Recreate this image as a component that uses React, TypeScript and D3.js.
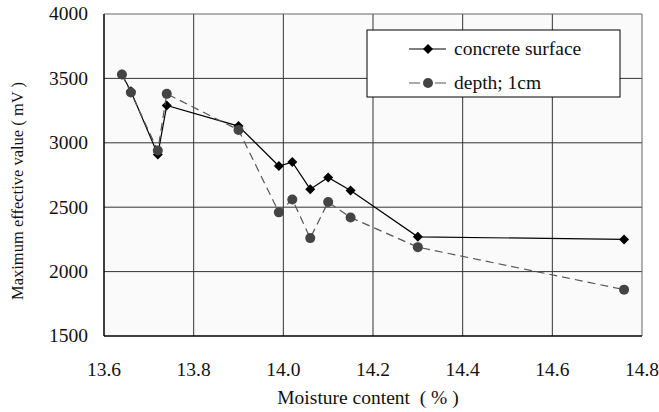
import React from "react";
import * as d3 from "d3";

const moisture = [13.64, 13.66, 13.72, 13.74, 13.9, 13.99, 14.02, 14.06, 14.1, 14.15, 14.3, 14.76];
const surfaceValues = [3530, 3400, 2910, 3290, 3130, 2820, 2850, 2640, 2730, 2630, 2270, 2250];
const depthValues = [3530, 3390, 2940, 3380, 3100, 2460, 2560, 2260, 2540, 2420, 2190, 1860];
const xTicks = [13.6, 13.8, 14.0, 14.2, 14.4, 14.6, 14.8];
const yTicks = [1500, 2000, 2500, 3000, 3500, 4000];
const seriesNames = ["concrete surface", "depth; 1cm"];

const W = 659;
const H = 412;
const M = { left: 104, top: 14, right: 642, bottom: 336 };
const FONT = "Liberation Serif";

export default function App() {
  const x = d3.scaleLinear().domain([13.6, 14.8]).range([M.left, M.right]);
  const y = d3.scaleLinear().domain([1500, 4000]).range([M.bottom, M.top]);
  const line = d3
    .line<number>()
    .x((_, i) => x(moisture[i]))
    .y((d) => y(d));

  const diamond = (cx: number, cy: number, r = 5) =>
    `M${cx},${cy - r}L${cx + r},${cy}L${cx},${cy + r}L${cx - r},${cy}Z`;

  const lx = 367;
  const ly = 30;

  return (
    <svg width={W} height={H} style={{ position: "absolute", left: 0, top: 0, background: "#fff" }}>
      <rect x={M.left} y={M.top} width={M.right - M.left} height={M.bottom - M.top} fill="#fafafa" />
      {xTicks.slice(1, -1).map((t) => (
        <line key={"gx" + t} x1={x(t)} x2={x(t)} y1={M.top} y2={M.bottom} stroke="#333" strokeWidth={1} />
      ))}
      {yTicks.slice(1, -1).map((t) => (
        <line key={"gy" + t} x1={M.left} x2={M.right} y1={y(t)} y2={y(t)} stroke="#333" strokeWidth={1} />
      ))}
      <line x1={M.left} x2={M.right} y1={M.top} y2={M.top} stroke="#666" />
      <line x1={M.right} x2={M.right} y1={M.top} y2={M.bottom} stroke="#666" />
      <line x1={M.left} x2={M.left} y1={M.top} y2={M.bottom} stroke="#000" strokeWidth={1.5} />
      <line x1={M.left} x2={M.right} y1={M.bottom} y2={M.bottom} stroke="#000" strokeWidth={1.5} />
      {yTicks.map((t) => (
        <text key={"ty" + t} x={88} y={y(t)} dy="0.33em" textAnchor="end" fontFamily={FONT} fontSize={19.5} fill="#111">
          {t}
        </text>
      ))}
      {xTicks.map((t) => (
        <text key={"tx" + t} x={x(t)} y={376} textAnchor="middle" fontFamily={FONT} fontSize={19.5} fill="#111">
          {t.toFixed(1)}
        </text>
      ))}
      <text x={368} y={404} textAnchor="middle" fontFamily={FONT} fontSize={19.5} fill="#111" style={{ whiteSpace: "pre" }}>
        {"Moisture content  ( % )"}
      </text>
      <text
        transform={`translate(23,191) rotate(-90)`}
        textAnchor="middle"
        fontFamily={FONT}
        fontSize={16.5}
        fill="#111"
      >
        Maximum effective value ( mV )
      </text>

      <path d={line(surfaceValues) || ""} fill="none" stroke="#000" strokeWidth={1.2} />
      {surfaceValues.map((v, i) => (
        <path key={"s" + i} d={diamond(x(moisture[i]), y(v))} fill="#000" />
      ))}
      <path d={line(depthValues) || ""} fill="none" stroke="#555" strokeWidth={1.2} strokeDasharray="8,5" />
      {depthValues.map((v, i) => (
        <circle key={"d" + i} cx={x(moisture[i])} cy={y(v)} r={5} fill="#444" />
      ))}

      <rect x={lx} y={ly} width={253} height={67} fill="#fff" stroke="#000" strokeWidth={1} />
      <line x1={lx + 42} x2={lx + 79} y1={ly + 19} y2={ly + 19} stroke="#000" strokeWidth={1.2} />
      <path d={diamond(lx + 61, ly + 19)} fill="#000" />
      <text x={lx + 87} y={ly + 19} dy="0.33em" fontFamily={FONT} fontSize={19.5} fill="#111">
        {seriesNames[0]}
      </text>
      <line
        x1={lx + 42}
        x2={lx + 79}
        y1={ly + 53}
        y2={ly + 53}
        stroke="#555"
        strokeWidth={1.2}
        strokeDasharray="11,15"
      />
      <circle cx={lx + 61} cy={ly + 53} r={5} fill="#444" />
      <text x={lx + 87} y={ly + 53} dy="0.33em" fontFamily={FONT} fontSize={19.5} fill="#111">
        {seriesNames[1]}
      </text>
    </svg>
  );
}
